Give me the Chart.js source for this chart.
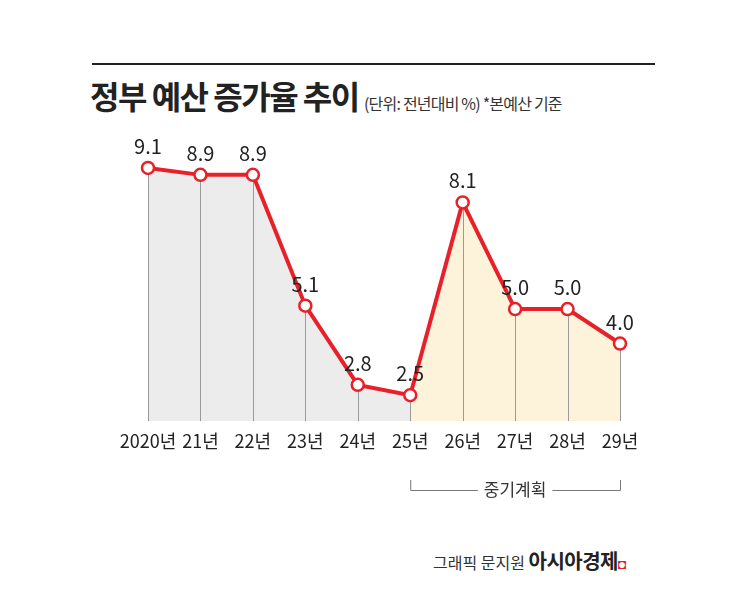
<!DOCTYPE html>
<html><head><meta charset="utf-8">
<script src="https://cdn.jsdelivr.net/npm/chart.js@4"></script>
<style>
body{margin:0;background:#fff;font-family:"Noto Sans CJK KR",sans-serif;}
#wrap{position:relative;width:745px;height:596px;}
#rule{position:absolute;left:92px;top:63px;width:563px;height:2px;background:#222;}
#title{position:absolute;left:90px;top:72px;font-size:32px;font-weight:700;color:#222;letter-spacing:-1.5px;}
#sub{position:absolute;left:364px;top:91px;font-size:16px;color:#333;letter-spacing:-0.8px;}
#credit{position:absolute;left:433px;top:546px;font-size:16px;color:#333;}
#credit b{font-size:20px;color:#222;letter-spacing:-0.5px;}
#credit i{color:#e8202a;font-style:normal;font-size:14px;}
canvas{position:absolute;left:0;top:0;}
</style></head>
<body><div id="wrap">
<div id="rule"></div>
<div id="title">정부 예산 증가율 추이</div>
<div id="sub">(단위: 전년대비 %)  *본예산 기준</div>
<div id="credit">그래픽 문지원 <b>아시아경제</b><i>◘</i></div>
<canvas id="c" width="745" height="596"></canvas>
</div>
<script>
// 자료
const years = ['2020년','21년','22년','23년','24년','25년','26년','27년','28년','29년'];
const growth = [9.1, 8.9, 8.9, 5.1, 2.8, 2.5, 8.1, 5.0, 5.0, 4.0];
const planStart = 5; // 25년부터 중기계획
const planLabel = '중기계획';

const red = '#e8202a';
const past = growth.map((v, i) => i <= planStart ? v : null);
const plan = growth.map((v, i) => i >= planStart ? v : null);

const overlay = {
  id: 'overlay',
  beforeDatasetDraw(chart, args) {
    if (args.index !== 0) return;
    const ctx = chart.ctx, x = chart.scales.x, y = chart.scales.y;
    const bottom = chart.chartArea.bottom;
    ctx.save();
    ctx.strokeStyle = '#9a9a9a';
    ctx.lineWidth = 1;
    growth.forEach((v, i) => {
      const px = Math.round(x.getPixelForValue(i)) + 0.5;
      ctx.beginPath();
      ctx.moveTo(px, y.getPixelForValue(v));
      ctx.lineTo(px, bottom);
      ctx.stroke();
    });
    ctx.restore();
  },
  afterDatasetsDraw(chart) {
    const ctx = chart.ctx, x = chart.scales.x, y = chart.scales.y;
    const bottom = chart.chartArea.bottom;
    ctx.save();
    ctx.fillStyle = '#222';
    ctx.textAlign = 'center';
    ctx.font = '20px "Noto Sans CJK KR"';
    ctx.textBaseline = 'alphabetic';
    growth.forEach((v, i) => {
      ctx.fillText(v.toFixed(1), x.getPixelForValue(i), y.getPixelForValue(v) - 14);
    });
    ctx.font = '18px "Noto Sans CJK KR"';
    ctx.textBaseline = 'middle';
    years.forEach((l, i) => ctx.fillText(l, x.getPixelForValue(i), bottom + 20));
    // 중기계획 괄호
    const x0 = x.getPixelForValue(planStart), x1 = x.getPixelForValue(years.length - 1);
    const by = bottom + 69;
    ctx.strokeStyle = '#777';
    ctx.lineWidth = 1;
    ctx.beginPath();
    ctx.moveTo(x0 + 0.5, by - 10); ctx.lineTo(x0 + 0.5, by + 0.5);
    ctx.lineTo(x1 + 0.5, by + 0.5); ctx.lineTo(x1 + 0.5, by - 10);
    ctx.stroke();
    ctx.font = '17px "Noto Sans CJK KR"';
    const tw = ctx.measureText(planLabel).width + 12;
    const cx = (x0 + x1) / 2;
    ctx.fillStyle = '#fff';
    ctx.fillRect(cx - tw / 2, by - 10, tw, 20);
    ctx.fillStyle = '#333';
    ctx.fillText(planLabel, cx, by);
    ctx.restore();
  }
};

new Chart(document.getElementById('c'), {
  type: 'line',
  data: {
    labels: years,
    datasets: [
      { data: growth, borderColor: red, borderWidth: 4, pointRadius: 6, pointBorderWidth: 2.5,
        pointBackgroundColor: '#fff', pointBorderColor: red, tension: 0, order: 0, fill: false },
      { data: past, borderWidth: 0, pointRadius: 0, fill: 'start', backgroundColor: '#ececec', order: 2 },
      { data: plan, borderWidth: 0, pointRadius: 0, fill: 'start', backgroundColor: '#fdf2da', order: 1 }
    ]
  },
  options: {
    responsive: false,
    animation: false,
    layout: { padding: { left: 148, right: 125, top: 137, bottom: 175 } },
    plugins: { legend: { display: false }, tooltip: { enabled: false } },
    scales: {
      x: { display: false, offset: false },
      y: { display: false, min: 1.75, max: 10 }
    }
  },
  plugins: [overlay]
});
</script>
</body></html>
